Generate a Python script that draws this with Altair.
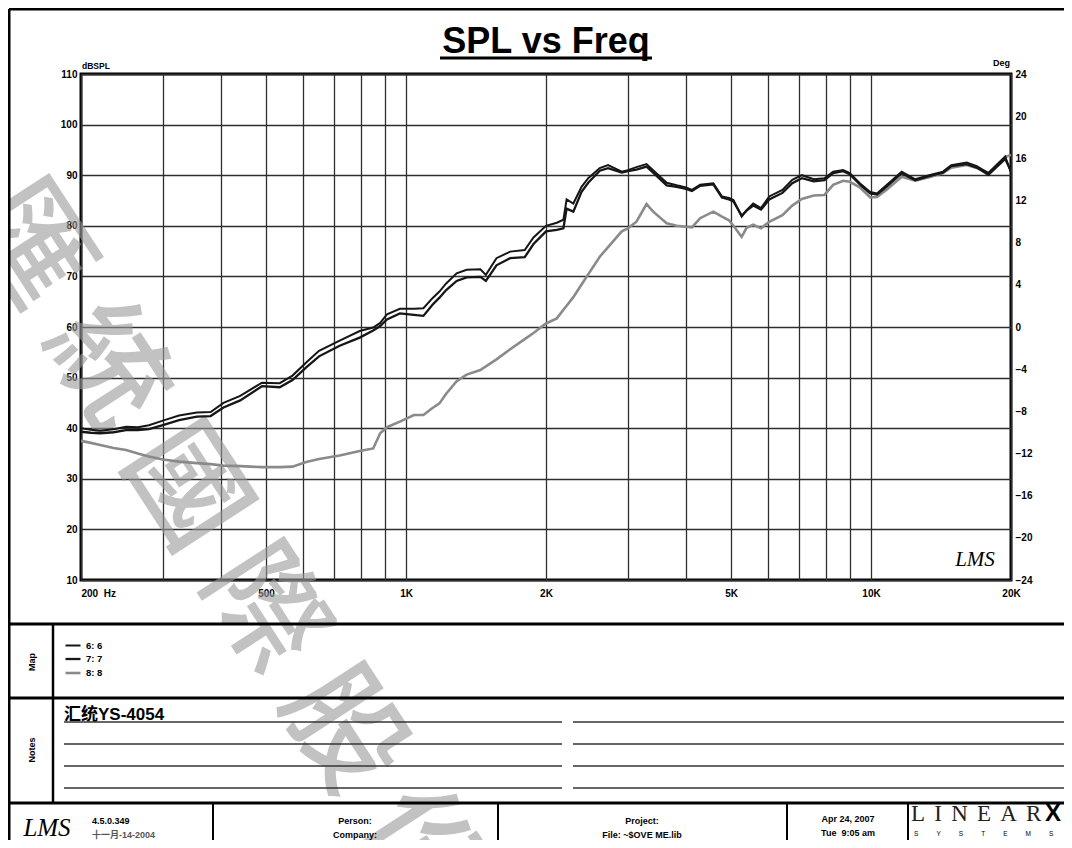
import altair as alt
import pandas as pd

# ---------------- data ----------------
freqs = [200, 210, 220, 235, 250, 265, 280, 300, 325, 355,
         380, 405, 440, 490, 535, 570, 610, 650, 720, 795,
         850, 880, 910, 970, 1040, 1090, 1140, 1180, 1220, 1285,
         1350, 1445, 1485, 1565, 1675, 1800, 1880, 2000, 2110, 2180,
         2215, 2290, 2385, 2465, 2610, 2720, 2910, 3000, 3130, 3290,
         3400, 3635, 3820, 4000, 4120, 4290, 4580, 4780, 4950, 5060,
         5270, 5400, 5580, 5800, 6040, 6450, 6770, 7100, 7530, 7940,
         8290, 8710, 9000, 9460, 9960, 10300, 10820, 11640, 12450, 13340,
         14280, 14880, 16060, 16880, 17880, 18610, 19440, 20000]

spl_6 = [40.0, 39.7, 39.5, 39.8, 40.3, 40.2, 40.6, 41.5, 42.5, 43.1,
         43.2, 45.0, 46.4, 49.0, 48.9, 50.4, 53.0, 55.3, 57.3, 59.2,
         59.9, 60.8, 62.5, 63.6, 63.6, 63.7, 65.7, 67.0, 68.6, 70.6,
         71.3, 71.4, 70.3, 73.6, 74.9, 75.2, 77.7, 80.0, 80.6, 81.2,
         85.2, 84.4, 87.7, 89.4, 91.4, 92.0, 90.7, 91.0, 91.6, 92.2,
         91.0, 88.5, 88.0, 87.6, 87.1, 88.1, 88.4, 85.8, 85.5, 85.1,
         81.8, 83.1, 84.4, 83.5, 85.8, 87.1, 89.1, 90.0, 89.2, 89.4,
         90.7, 91.0, 90.4, 88.4, 86.7, 86.4, 88.1, 90.7, 89.2, 90.0,
         90.7, 92.0, 92.5, 91.8, 90.4, 92.0, 93.7, 90.5]

spl_7 = [39.3, 39.1, 39.0, 39.2, 39.6, 39.6, 39.8, 40.6, 41.6, 42.3,
         42.4, 44.1, 45.5, 48.3, 48.1, 49.5, 52.0, 54.2, 56.3, 57.9,
         59.3, 60.2, 61.5, 62.7, 62.4, 62.2, 64.4, 65.8, 67.3, 69.1,
         69.8, 69.9, 69.1, 72.2, 73.6, 73.8, 76.4, 78.9, 79.2, 79.5,
         83.4, 82.8, 86.7, 88.5, 90.9, 91.4, 90.5, 90.8, 91.1, 91.7,
         90.5, 88.0, 87.7, 87.3, 86.9, 87.9, 88.2, 85.6, 85.2, 84.8,
         82.0, 83.0, 84.0, 83.2, 85.2, 86.5, 88.4, 89.4, 88.8, 89.0,
         90.4, 90.8, 90.2, 88.2, 86.4, 86.2, 87.8, 90.4, 89.0, 89.8,
         90.5, 91.8, 92.2, 91.5, 90.1, 91.6, 93.2, 90.8]

spl_8 = [37.5, 37.1, 36.7, 36.1, 35.7, 35.0, 34.4, 33.8, 33.4, 33.1,
         32.9, 32.6, 32.5, 32.3, 32.3, 32.4, 33.3, 33.9, 34.6, 35.5,
         36.0, 39.0, 40.2, 41.3, 42.6, 42.6, 44.0, 44.9, 46.8, 49.3,
         50.6, 51.5, 52.2, 53.6, 55.6, 57.6, 58.8, 60.7, 61.7, 63.4,
         64.2, 65.9, 68.4, 70.4, 73.9, 75.8, 78.9, 79.5, 80.8, 84.3,
         82.8, 80.5, 80.0, 79.8, 79.7, 81.5, 82.8, 81.8, 81.1, 80.0,
         77.8, 79.6, 80.2, 79.5, 80.8, 82.1, 84.0, 85.3, 86.0, 86.1,
         88.1, 88.9, 88.7, 87.6, 85.6, 85.7, 87.2, 89.7, 88.9, 89.6,
         90.4, 91.5, 92.0, 91.4, 90.5, 91.8, 93.6, 94.0]

series_names = ["6: 6", "7: 7", "8: 8"]
x_ticks = [200, 300, 400, 500, 600, 700, 800, 900, 1000, 2000, 3000, 4000,
           5000, 6000, 7000, 8000, 9000, 10000, 20000]
x_labels = {200: "200\u00a0\u00a0Hz", 500: "500", 1000: "1K", 2000: "2K",
            5000: "5K", 10000: "10K", 20000: "20K"}
y_ticks = [10, 20, 30, 40, 50, 60, 70, 80, 90, 100, 110]
deg_ticks = [-24, -20, -16, -12, -8, -4, 0, 4, 8, 12, 16, 20, 24]

rows = []
for name, vals in zip(series_names, [spl_6, spl_7, spl_8]):
    for f, v in zip(freqs, vals):
        rows.append({"freq": f, "spl": v, "series": name})
df = pd.DataFrame(rows)
deg_df = pd.DataFrame({"deg": deg_ticks})

# ---------------- layout ----------------
SANS = "Liberation Sans, Arial, Noto Sans CJK SC, sans-serif"
SERIF = "Liberation Serif, Times New Roman, serif"
OX, OY = 81, 74          # page position of the plot area
W, H = 930, 506
TOTAL_W, TOTAL_H = 1056, 832

one = alt.Data(values=[{"k": 0}])


def rule(x1, y1, x2, y2, w=1.0, color="black"):
    return alt.Chart(one).mark_rule(stroke=color, strokeWidth=w, clip=False).encode(
        x=alt.value(x1 - OX), y=alt.value(y1 - OY),
        x2=alt.value(x2 - OX), y2=alt.value(y2 - OY))


def label(text, x, y, size=9, weight="bold", align="left", baseline="middle",
          font=SANS, color="black", angle=0, style="normal", opacity=1.0):
    return alt.Chart(one).mark_text(
        text=text, fontSize=size, fontWeight=weight, align=align, baseline=baseline,
        font=font, color=color, angle=angle, fontStyle=style, opacity=opacity,
        clip=False).encode(x=alt.value(x - OX), y=alt.value(y - OY))


label_expr = " : ".join(
    f"datum.value == {k} ? '{v}'" for k, v in x_labels.items()) + " : ''"

x_enc = alt.X("freq:Q", title=None,
              scale=alt.Scale(type="log", domain=[200, 20000], nice=False),
              axis=alt.Axis(values=x_ticks, labelExpr=label_expr, grid=True,
                            gridColor="#2e2e2e", gridWidth=1.3, ticks=False,
                            domain=False, labelFlush=False, labelOverlap=False,
                            labelFont=SANS, labelFontSize=10, labelFontWeight="bold",
                            labelColor="black", labelPadding=8,
                            labelAlign={"condition": {"test": "datum.value == 200", "value": "left"},
                                        "value": "center"}))
y_enc = alt.Y("spl:Q", title=None,
              scale=alt.Scale(domain=[10, 110], nice=False, zero=False),
              axis=alt.Axis(values=y_ticks, grid=True, gridColor="#2e2e2e",
                            gridWidth=1.3, ticks=False, domain=False,
                            labelFont=SANS, labelFontSize=10, labelFontWeight="bold",
                            labelColor="black", labelPadding=4))
legend_cfg = dict(orient="none", legendX=64 - OX, legendY=637 - OY,
                  symbolType="stroke", symbolSize=225,
                  labelFont=SANS, labelFontSize=9.5, labelFontWeight="bold",
                  labelColor="black", rowPadding=0, labelOffset=4, padding=0)
color_enc = alt.Color("series:N", title=None,
                      scale=alt.Scale(domain=series_names,
                                      range=["#161616", "#161616", "#8a8a8a"]),
                      legend=alt.Legend(**legend_cfg))
width_enc = alt.StrokeWidth("series:N", title=None,
                            scale=alt.Scale(domain=series_names, range=[2.0, 2.6, 1.2]),
                            legend=alt.Legend(**legend_cfg))

base = alt.Chart(df)
gray_line = base.transform_filter("datum.series == '8: 8'").mark_line(clip=True).encode(
    x=x_enc, y=y_enc, color=color_enc, strokeWidth=width_enc, detail="series:N")
dark_lines = base.transform_filter("datum.series != '8: 8'").mark_line(clip=True).encode(
    x=x_enc, y=y_enc, color=color_enc, strokeWidth=width_enc, detail="series:N")

watermark = label("匯 統 國 際 股 份", 222, 550, size=118, weight=500,
                  align="center", font="Noto Sans CJK TC", color="#9a9a9a",
                  angle=57, opacity=0.6)

spl_layer = alt.layer(watermark, gray_line, dark_lines)

deg_layer = alt.Chart(deg_df).mark_point(opacity=0).encode(
    y=alt.Y("deg:Q", title=None,
            scale=alt.Scale(domain=[-24, 24], nice=False, zero=False),
            axis=alt.Axis(orient="right", values=deg_ticks, grid=False, ticks=False,
                          domain=False, labelFont=SANS, labelFontSize=10,
                          labelFontWeight="bold", labelColor="black", labelPadding=4)))

NB = "\u00a0"
deco = [
    # page frame and panel separators
    rule(9, 9, 1072, 9, 3), rule(9, 9, 9, 848, 3),
    rule(9, 624, 1072, 624, 3), rule(9, 698, 1072, 698, 3), rule(9, 803, 1072, 803, 3),
    rule(53, 624, 53, 803, 2.5),
    rule(213, 803, 213, 848, 2), rule(498, 803, 498, 848, 2),
    rule(787, 803, 787, 848, 2), rule(908, 803, 908, 848, 2),
    # title
    label("SPL vs Freq", 546, 53, size=36, align="center", baseline="alphabetic"),
    rule(440, 58, 652, 58, 3),
    # axis captions
    label("dBSPL", 82, 66, size=8.5),
    label("Deg", 1010, 63, size=9, align="right"),
    label("LMS", 975, 560, size=21, weight="normal", align="center",
          font=SERIF, style="italic"),
    # side captions
    label("Map", 32, 662, size=9, align="center", angle=270),
    label("Notes", 32, 750, size=9, align="center", angle=270),
    # notes
    label("汇统YS-4054", 64, 720, size=17, baseline="alphabetic"),
]
for yy in [722, 744, 766, 788]:
    deco.append(rule(64, yy, 562, yy, 1.3, "#333333"))
    deco.append(rule(573, yy, 1072, yy, 1.3, "#333333"))
deco += [
    # footer
    label("LMS", 47, 828, size=25, weight="normal", align="center",
          font=SERIF, style="italic"),
    label("4.5.0.349", 92, 821, size=9),
    label("十一月-14-2004", 92, 835, size=9, color="#555555"),
    label("Person:", 355, 821, size=9, align="center"),
    label("Company:", 355, 835, size=9, align="center"),
    label("Project:", 642, 821, size=9, align="center"),
    label("File: ~$OVE ME.lib", 642, 835, size=9, align="center"),
    label("Apr 24, 2007", 848, 819, size=9, align="center"),
    label("Tue" + NB * 2 + "9:05 am", 848, 833, size=9, align="center"),
    label("\u2009\u2009".join("LINEAR"), 911, 821, size=23, weight="normal",
          baseline="alphabetic", font=SERIF, color="#222222"),
    label("X", 1045, 821, size=24, baseline="alphabetic"),
    label((NB * 10).join("SYSTEMS"), 914, 834, size=6.5, weight="normal"),
]

chart = alt.layer(spl_layer, deg_layer, *deco).resolve_scale(
    y="independent"
).properties(
    width=W, height=H,
    autosize=alt.AutoSizeParams(type="none"),
    padding={"left": OX - 8, "top": OY - 8, "right": TOTAL_W - (OX - 8) - W,
             "bottom": TOTAL_H - (OY - 8) - H},
    background="white",
).configure_view(stroke="black", strokeWidth=3)

chart.save("out.html", embed_options={"renderer": "svg", "actions": False})
